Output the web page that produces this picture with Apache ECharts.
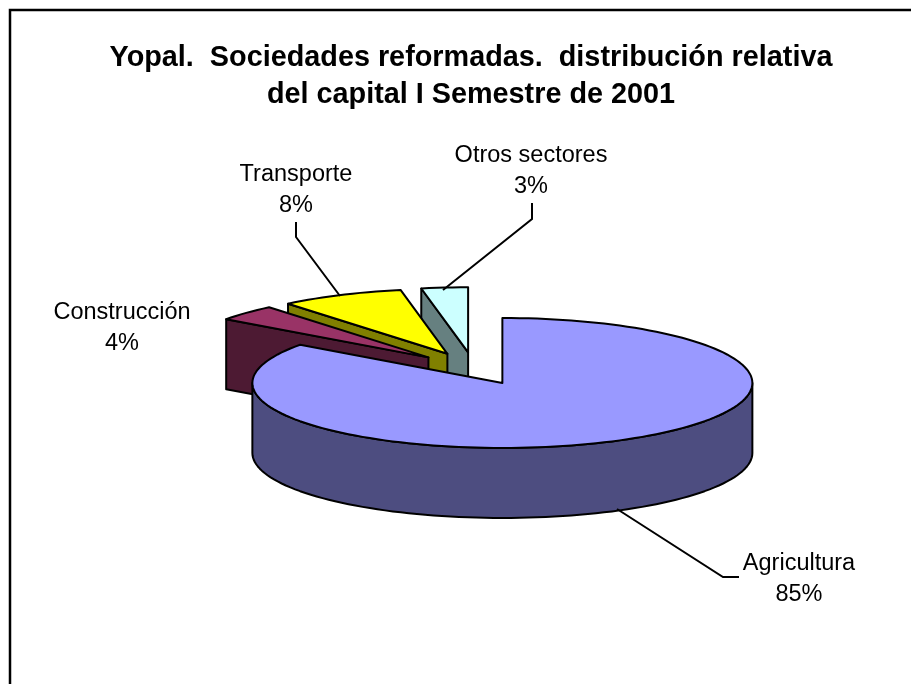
<!DOCTYPE html>
<html>
<head>
<meta charset="utf-8">
<style>
  html, body { margin: 0; padding: 0; background: #fff; }
  #chart { width: 911px; height: 684px; }
</style>
<script src="https://cdn.jsdelivr.net/npm/echarts@6/dist/echarts.min.js"></script>
</head>
<body>
<div id="chart"></div>
<script>
const categories = ['Agricultura', 'Construcción', 'Transporte', 'Otros sectores'];
const values = [85, 4, 8, 3];
const topColors = ['#9999FF', '#993366', '#FFFF00', '#CCFFFF'];
const sideColors = ['#4D4D80', '#4D1A33', '#808000', '#668080'];

// pie geometry, ellipse because the pie is tilted
const cx = 474, cy = 368.5;
const rx = 250, ry = 65;
const depth = 70;
const explode = 0.25;

// label centres and leader lines
const labelPos = [[799, 564], [122, 313], [296, 175], [531, 156]];
const leaders = [
  [[617, 509], [723, 577], [739, 577]],
  null,
  [[296, 222], [296, 237], [340, 296]],
  [[532, 203], [532, 219], [443, 290]]
];

const total = values.reduce((a, b) => a + b, 0);
const RAD = Math.PI / 180;

function rimPoint(x, y, deg) {
  return [x + rx * Math.sin(deg * RAD), y - ry * Math.cos(deg * RAD)];
}

function arcPoints(x, y, from, to) {
  const pts = [];
  const steps = Math.max(2, Math.ceil((to - from) / 2));
  for (let i = 0; i <= steps; i++) {
    pts.push(rimPoint(x, y, from + (to - from) * i / steps));
  }
  return pts;
}

function face(points, fill, z2) {
  return {
    type: 'polygon',
    z2: z2,
    shape: { points: points },
    style: { fill: fill, stroke: '#000', lineWidth: 2, lineJoin: 'round' }
  };
}

function drop(points) {
  return points.map(p => [p[0], p[1] + depth]).reverse();
}

function renderSlice(params, api) {
  const i = params.dataIndex;
  let before = 0;
  for (let k = 0; k < i; k++) before += values[k];
  const a0 = before / total * 360;
  const a1 = (before + api.value(0)) / total * 360;
  const mid = (a0 + a1) / 2;

  // exploded slice apex
  const apex = [
    cx + explode * rx * Math.sin(mid * RAD),
    cy - explode * ry * Math.cos(mid * RAD)
  ];

  // back slices go first, Agricultura ends on top
  const z = (values.length - i) * 10;
  const children = [];

  if (Math.sin(a0 * RAD) < -1e-6) {
    const edge = [apex, rimPoint(apex[0], apex[1], a0)];
    children.push(face(edge.concat(drop(edge)), sideColors[i], z));
  }
  if (Math.sin(a1 * RAD) > 1e-6) {
    const edge = [apex, rimPoint(apex[0], apex[1], a1)];
    children.push(face(edge.concat(drop(edge)), sideColors[i], z));
  }

  // front facing part of the rim
  const from = Math.max(a0, 90), to = Math.min(a1, 270);
  if (to > from) {
    const rim = arcPoints(apex[0], apex[1], from, to);
    children.push(face(rim.concat(drop(rim)), sideColors[i], z + 1));
  }

  children.push(face([apex].concat(arcPoints(apex[0], apex[1], a0, a1)), topColors[i], z + 2));

  if (leaders[i]) {
    children.push({
      type: 'polyline',
      z2: 100,
      shape: { points: leaders[i] },
      style: { fill: null, stroke: '#000', lineWidth: 2 }
    });
  }
  [categories[i], api.value(0) + '%'].forEach((txt, n) => {
    children.push({
      type: 'text',
      z2: 100,
      style: {
        text: txt,
        x: labelPos[i][0],
        y: labelPos[i][1] + n * 30.5,
        align: 'center',
        verticalAlign: 'middle',
        fill: '#000',
        font: '23.5px "Liberation Sans", Arial, sans-serif'
      }
    });
  });

  return { type: 'group', children: children };
}

const chart = echarts.init(document.getElementById('chart'), null, { renderer: 'canvas' });
chart.setOption({
  backgroundColor: '#fff',
  animation: false,
  title: {
    text: 'Yopal.  Sociedades reformadas.  distribución relativa\ndel capital I Semestre de 2001',
    left: 466,
    top: 35,
    textAlign: 'center',
    textStyle: {
      fontFamily: '"Liberation Sans", Arial, sans-serif',
      fontSize: 28.8,
      fontWeight: 'bold',
      lineHeight: 37,
      color: '#000'
    }
  },
  graphic: [{
    // frame is cut off by the picture on the right and at the bottom
    type: 'polyline',
    silent: true,
    shape: { points: [[10, 700], [10, 10], [920, 10]] },
    style: { fill: null, stroke: '#000', lineWidth: 2.5 }
  }],
  series: [{
    type: 'custom',
    coordinateSystem: 'none',
    silent: true,
    data: values.map(v => [v]),
    renderItem: renderSlice
  }]
});
</script>
</body>
</html>
